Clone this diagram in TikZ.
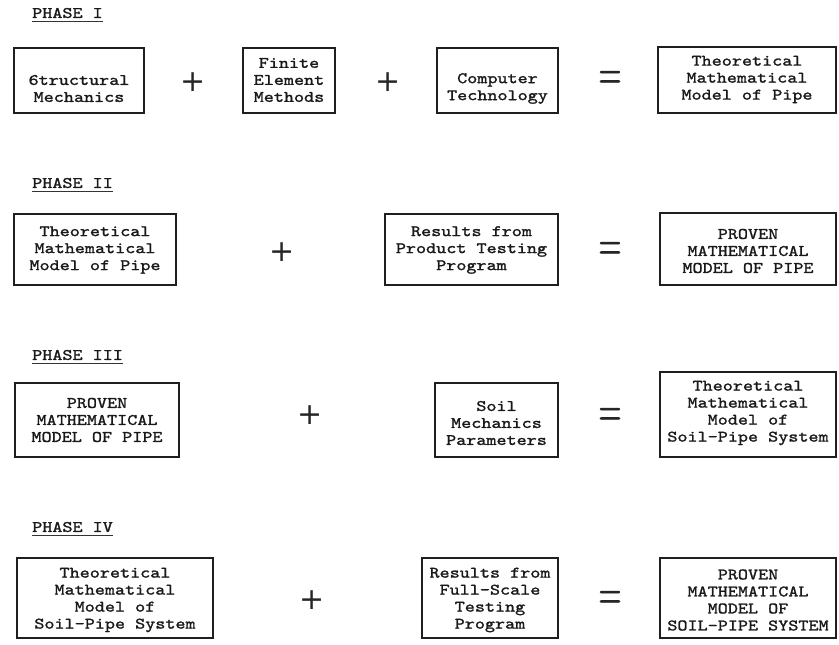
\documentclass[tikz,border=0pt]{standalone}
\usepackage{fontspec}
\newfontfamily\tw{lmmono10-regular.otf}[FakeStretch=1.2,FakeBold=1.4]
\newfontfamily\dv{DejaVu Sans}
\newfontfamily\lmsym{lmroman10-regular.otf}[FakeBold=1.2]
\newcommand\pbox[7]{%
  \node[boxs, minimum width={#4-#2}, minimum height={#5-#3}] (#1) at ({(#2+#4)/2},{(#3+#5)/2}) {};
  \node[txt] (#1t) at ({(#2+#4)/2},#6) {#7};}
\newcommand\plab[4]{%
  \node[lab] (#1) at (32,#2) {#4};
  \draw[uline] ([yshift=-#3pt]#1.south west) -- ([yshift=-#3pt]#1.south east);}
\begin{document}
\begin{tikzpicture}[x=1pt,y=-1pt,
  ink/.style={draw=black!88, line width=1.6pt},
  boxs/.style={ink, inner sep=0pt},
  txt/.style={font=\tw\fontsize{16}{17}\selectfont, align=center, text=black!90, inner sep=0pt},
  lab/.style={font=\tw\fontsize{16}{17}\selectfont, text=black!90, inner sep=0pt, anchor=west},
  uline/.style={draw=black!80, line width=1.3pt},
  sym/.style={font=\dv\fontsize{30}{30}\selectfont, text=black!85, inner sep=0pt},
  eqs/.style={font=\lmsym\fontsize{30}{30}\selectfont, text=black!85, inner sep=0pt}]
\fill[white] (0,0) rectangle (839,645);
\useasboundingbox (0,0) rectangle (839,645);

% PHASE I
\plab{L1}{13}{3}{PHASE I}
\pbox{b11}{14}{48}{144}{113}{88.5}{6tructural\\Mechanics}
\pbox{b12}{243}{48}{335}{113}{80}{Finite\\Element\\Methods}
\pbox{b13}{437}{48}{558}{113}{88.5}{Computer\\Technology}
\pbox{b14}{658}{47}{836}{113}{79.5}{Theoretical\\Mathematical\\Model of Pipe}
\node[sym] (p11) at (193,82) {+};
\node[sym] (p12) at (388,82) {+};
\node[eqs] (e1) at (610,80) {\scalebox{1}[1.6]{=}};

% PHASE II
\plab{L2}{183}{3}{PHASE II}
\pbox{b21}{14}{214}{176}{285}{250}{Theoretical\\Mathematical\\Model of Pipe}
\pbox{b22}{385}{214}{558}{285}{250}{Results from\\Product Testing\\Program}
\pbox{b23}{660}{213}{836}{285}{251}{PROVEN\\MATHEMATICAL\\MODEL OF PIPE}
\node[sym] (p21) at (282,252) {+};
\node[eqs] (e2) at (610,251) {\scalebox{1}[1.6]{=}};

% PHASE III
\plab{L3}{355}{3}{PHASE III}
\pbox{b31}{15}{383}{179}{457}{420}{PROVEN\\MATHEMATICAL\\MODEL OF PIPE}
\pbox{b32}{435}{383}{558}{457}{423}{Soil\\Mechanics\\Parameters}
\pbox{b33}{660}{372}{836}{457}{413}{Theoretical\\Mathematical\\Model of\\Soil-Pipe System}
\node[sym] (p31) at (310,415) {+};
\node[eqs] (e3) at (610,417) {\scalebox{1}[1.6]{=}};

% PHASE IV
\plab{L4}{527}{3}{PHASE IV}
\pbox{b41}{17}{558}{213}{638}{600}{Theoretical\\Mathematical\\Model of\\Soil-Pipe System}
\pbox{b42}{422}{558}{558}{638}{600}{Results from\\Full-Scale\\Testing\\Program}
\pbox{b43}{660}{558}{836}{638}{600}{PROVEN\\MATHEMATICAL\\MODEL OF\\SOIL-PIPE SYSTEM}
\node[sym] (p41) at (312,600) {+};
\node[eqs] (e4) at (610,600) {\scalebox{1}[1.6]{=}};
\end{tikzpicture}
\end{document}
